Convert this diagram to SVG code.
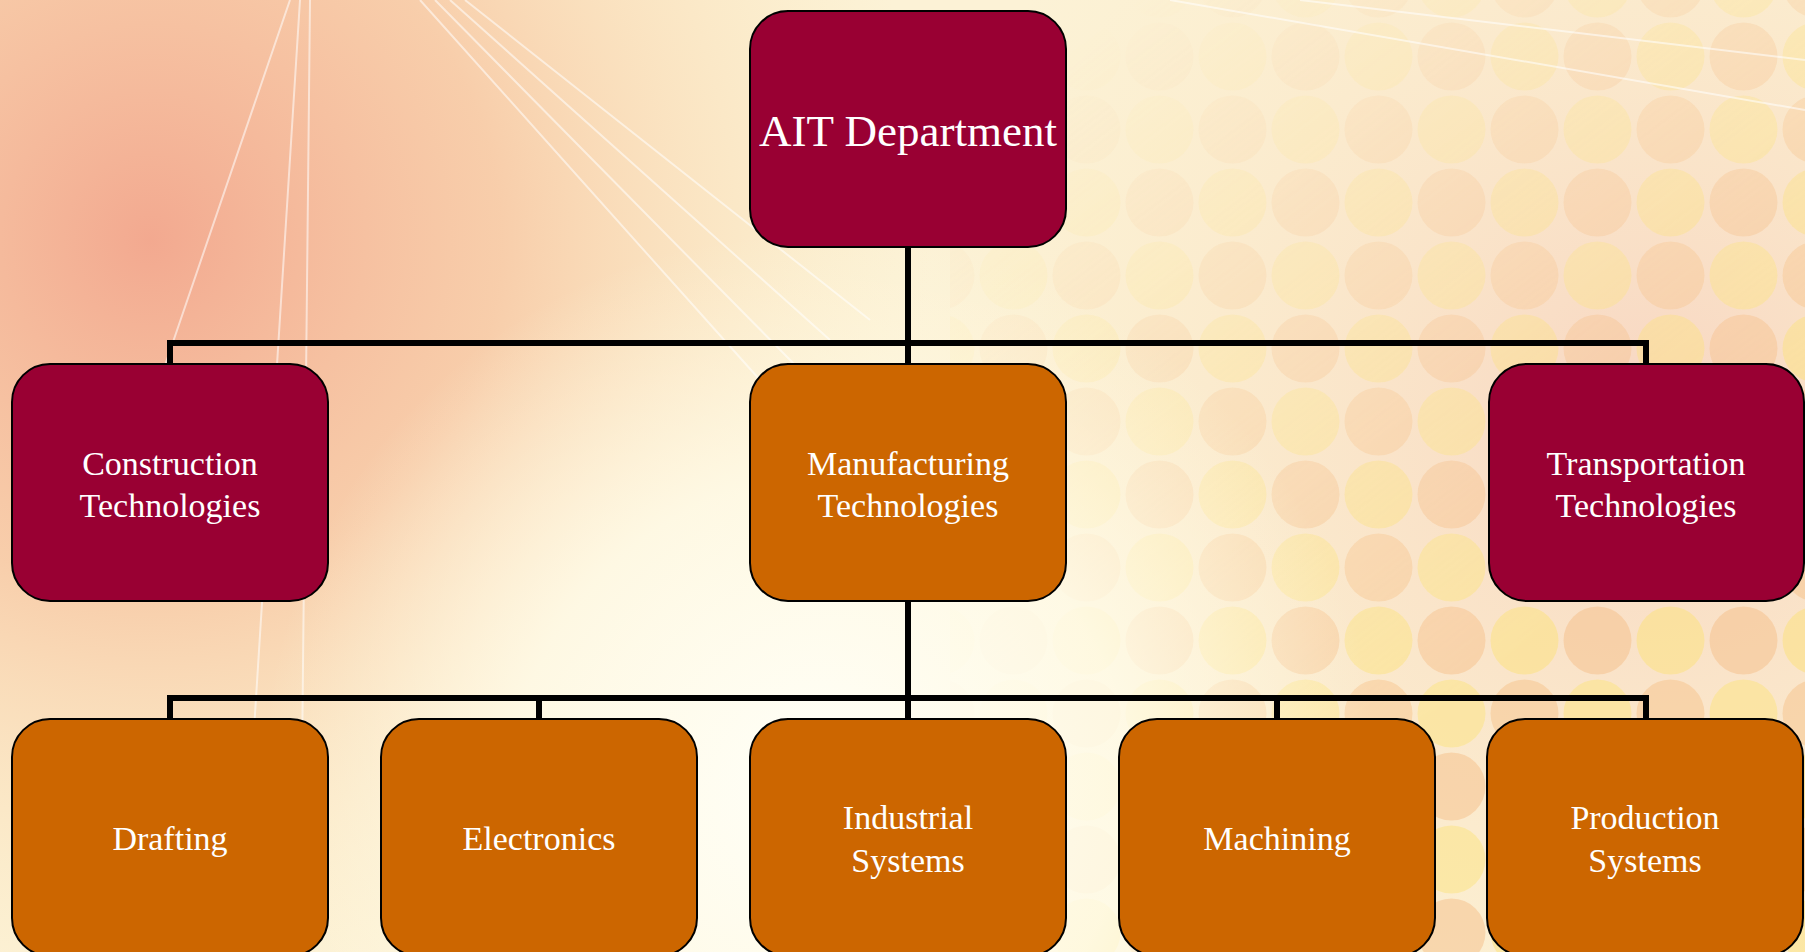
<svg xmlns="http://www.w3.org/2000/svg" width="1805" height="952" viewBox="0 0 1805 952">
  <defs>
    <style>
      .node rect { stroke: #000; stroke-width: 2; }
      .crimson rect { fill: #990033; }
      .orange rect { fill: #CC6600; }
      .node text { fill: #FFFFFF; font-family: "Liberation Serif", "Times New Roman", serif; font-size: 34px; text-anchor: middle; }
      .conn path { fill: none; stroke: #000; stroke-width: 6; stroke-linejoin: miter; stroke-linecap: square; }
      .ray { stroke: #FFFFFF; stroke-width: 2; opacity: 0.55; fill: none; }
    </style>
    <radialGradient id="gLeft" cx="150" cy="240" r="780" gradientUnits="userSpaceOnUse">
      <stop offset="0" stop-color="#F2A58C" stop-opacity="0.95"/>
      <stop offset="0.45" stop-color="#F6BE98" stop-opacity="0.7"/>
      <stop offset="1" stop-color="#FBE3B2" stop-opacity="0"/>
    </radialGradient>
    <radialGradient id="gLight" cx="820" cy="790" r="560" gradientUnits="userSpaceOnUse">
      <stop offset="0" stop-color="#FFFFF8" stop-opacity="1"/>
      <stop offset="0.55" stop-color="#FFFBE8" stop-opacity="0.85"/>
      <stop offset="1" stop-color="#FFF8E0" stop-opacity="0"/>
    </radialGradient>
    <radialGradient id="gRight" cx="1650" cy="420" r="750" gradientUnits="userSpaceOnUse">
      <stop offset="0" stop-color="#F7D2C0" stop-opacity="0.9"/>
      <stop offset="1" stop-color="#FBE8C0" stop-opacity="0"/>
    </radialGradient>
    <pattern id="dots" x="1050" y="20" width="146" height="146" patternUnits="userSpaceOnUse">
      <circle cx="36.5" cy="36.5" r="34" fill="#FCE27A"/>
      <circle cx="109.5" cy="36.5" r="34" fill="#F6C08A"/>
      <circle cx="36.5" cy="109.5" r="34" fill="#F7C48C"/>
      <circle cx="109.5" cy="109.5" r="34" fill="#FCE480"/>
    </pattern>
    <linearGradient id="fadeMask" x1="1000" y1="100" x2="1450" y2="700" gradientUnits="userSpaceOnUse">
      <stop offset="0" stop-color="#fff" stop-opacity="0"/>
      <stop offset="1" stop-color="#fff" stop-opacity="1"/>
    </linearGradient>
    <mask id="dotMask" maskUnits="userSpaceOnUse" x="0" y="0" width="1805" height="952">
      <rect x="0" y="0" width="1805" height="952" fill="url(#fadeMask)"/>
    </mask>
  </defs>

  <g id="background">
    <rect x="0" y="0" width="1805" height="952" fill="#FCF2D6"/>
    <rect x="0" y="0" width="1805" height="952" fill="url(#gRight)"/>
    <rect x="950" y="0" width="855" height="952" fill="url(#dots)" opacity="0.5" mask="url(#dotMask)"/>
    <rect x="0" y="0" width="1805" height="952" fill="url(#gLeft)"/>
    <rect x="0" y="0" width="1805" height="952" fill="url(#gLight)"/>
    <path class="ray" d="M290 0 L160 380 M300 0 L240 952 M310 0 L300 952 M420 0 L760 380 M435 0 L800 370 M450 0 L830 340 M465 0 L870 320 M1170 0 L1805 110 M1300 0 L1805 60"/>
  </g>

  <g id="connectors" class="conn">
    <path d="M908 247 V364"/>
    <path d="M170 364 V343 H1646 V364"/>
    <path d="M908 601 V719"/>
    <path d="M170 719 V698 H1646 V719"/>
    <path d="M539 698 V719"/>
    <path d="M1277 698 V719"/>
  </g>

  <g id="node-ait" class="node crimson">
    <rect x="750" y="11" width="316" height="236" rx="38" ry="38"/>
    <text x="908" y="146" style="font-size:45px">AIT Department</text>
  </g>

  <g id="node-construction" class="node crimson">
    <rect x="12" y="364" width="316" height="237" rx="38" ry="38"/>
    <text x="170" y="475">Construction</text>
    <text x="170" y="517">Technologies</text>
  </g>

  <g id="node-manufacturing" class="node orange">
    <rect x="750" y="364" width="316" height="237" rx="38" ry="38"/>
    <text x="908" y="475">Manufacturing</text>
    <text x="908" y="517">Technologies</text>
  </g>

  <g id="node-transportation" class="node crimson">
    <rect x="1489" y="364" width="315" height="237" rx="38" ry="38"/>
    <text x="1646" y="475">Transportation</text>
    <text x="1646" y="517">Technologies</text>
  </g>

  <g id="node-drafting" class="node orange">
    <rect x="12" y="719" width="316" height="237" rx="38" ry="38"/>
    <text x="170" y="850">Drafting</text>
  </g>

  <g id="node-electronics" class="node orange">
    <rect x="381" y="719" width="316" height="237" rx="38" ry="38"/>
    <text x="539" y="850">Electronics</text>
  </g>

  <g id="node-industrial" class="node orange">
    <rect x="750" y="719" width="316" height="237" rx="38" ry="38"/>
    <text x="908" y="829">Industrial</text>
    <text x="908" y="872">Systems</text>
  </g>

  <g id="node-machining" class="node orange">
    <rect x="1119" y="719" width="316" height="237" rx="38" ry="38"/>
    <text x="1277" y="850">Machining</text>
  </g>

  <g id="node-production" class="node orange">
    <rect x="1487" y="719" width="316" height="237" rx="38" ry="38"/>
    <text x="1645" y="829">Production</text>
    <text x="1645" y="872">Systems</text>
  </g>
</svg>
